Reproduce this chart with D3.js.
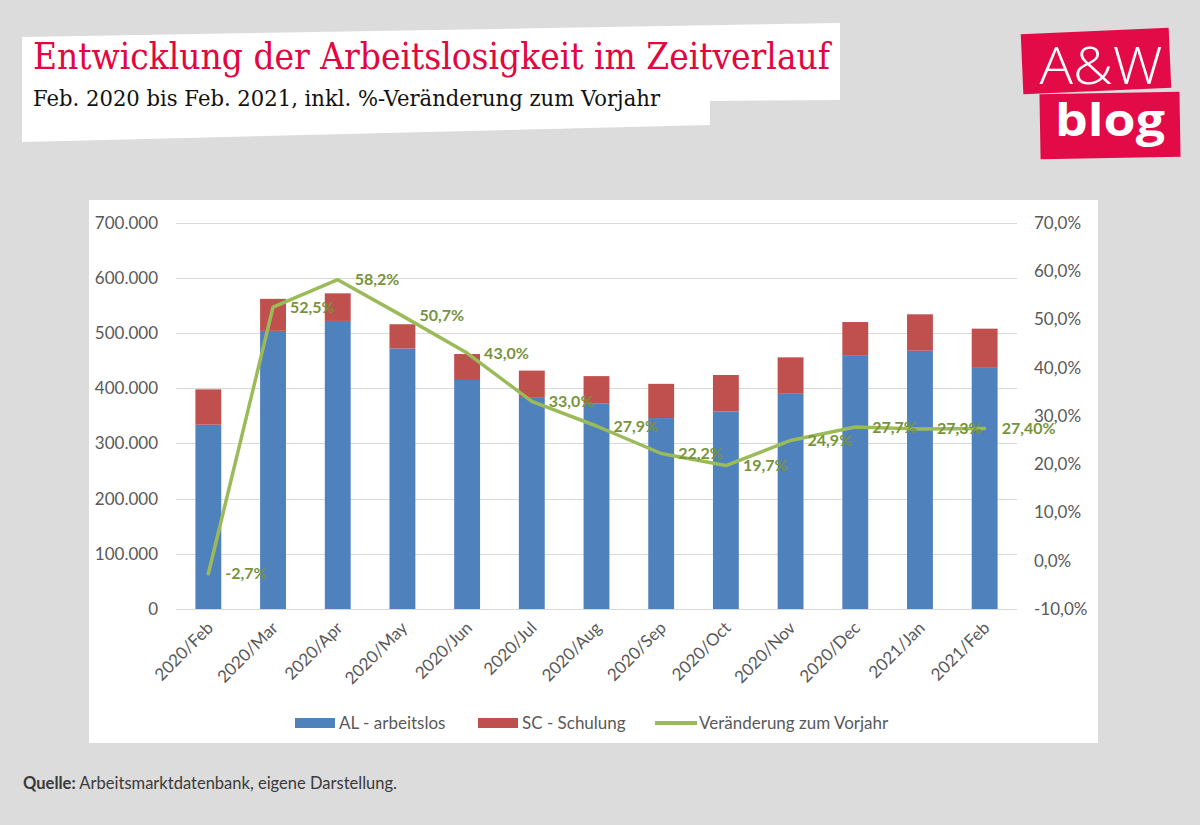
<!DOCTYPE html>
<html>
<head>
<meta charset="utf-8">
<script src="https://cdn.jsdelivr.net/npm/d3@7"></script>
<style>
  html, body { margin: 0; padding: 0; background: #dcdcdc; }
  svg { display: block; }
</style>
</head>
<body>
<svg id="chart" width="1200" height="825"></svg>
<script>
// ---- data ----
const categories = ["2020/Feb","2020/Mar","2020/Apr","2020/May","2020/Jun","2020/Jul","2020/Aug","2020/Sep","2020/Oct","2020/Nov","2020/Dec","2021/Jan","2021/Feb"];
const arbeitslos = [334000, 504000, 522000, 472000, 415000, 384000, 372000, 346000, 358000, 390000, 460000, 468000, 437000];
const schulung   = [64000, 58000, 50000, 44000, 47000, 48000, 50000, 62000, 66000, 66000, 60000, 66000, 71000];
const veraenderung = [-2.7, 52.5, 58.2, 50.7, 43.0, 33.0, 27.9, 22.2, 19.7, 24.9, 27.7, 27.3, 27.4];
const veraenderungLabels = ["-2,7%","52,5%","58,2%","50,7%","43,0%","33,0%","27,9%","22,2%","19,7%","24,9%","27,7%","27,3%","27,40%"];
const leftTicks = [0, 100000, 200000, 300000, 400000, 500000, 600000, 700000];
const rightTicks = [-10, 0, 10, 20, 30, 40, 50, 60, 70];
const seriesNames = ["AL - arbeitslos", "SC - Schulung", "Veränderung zum Vorjahr"];
const titleText = "Entwicklung der Arbeitslosigkeit im Zeitverlauf";
const subtitleText = "Feb. 2020 bis Feb. 2021, inkl. %-Veränderung zum Vorjahr";

// ---- styles ----
const C_BLUE = "#4f81bd", C_RED = "#c0504d", C_GREEN = "#9bbb59", C_GREEN_TXT = "#77933c";
const C_BRAND = "#e3063f";
const AXIS_FONT = "Lato, 'Open Sans', sans-serif";

const svg = d3.select("#chart");

// header white box
svg.append("path")
  .attr("d", "M22,37 L840,23 L840,100 L710,101 L710,125 L22,142 Z")
  .attr("fill", "#ffffff");

svg.append("text")
  .attr("x", 33).attr("y", 69)
  .attr("font-family", "'DejaVu Serif', serif")
  .attr("font-size", 38)
  .attr("fill", C_BRAND)
  .attr("textLength", 797).attr("lengthAdjust", "spacingAndGlyphs")
  .text(titleText);

svg.append("text")
  .attr("x", 33).attr("y", 106)
  .attr("font-family", "'DejaVu Serif', serif")
  .attr("font-size", 23)
  .attr("fill", "#111")
  .attr("textLength", 627).attr("lengthAdjust", "spacingAndGlyphs")
  .text(subtitleText);

// logo
const logo = svg.append("g");
logo.append("rect").attr("x", 1022).attr("y", 31).attr("width", 148).attr("height", 60)
  .attr("fill", "#e30a48").attr("transform", "rotate(-2.5 1096 61)");
logo.append("rect").attr("x", 1040).attr("y", 93).attr("width", 140).attr("height", 65)
  .attr("fill", "#e30a48").attr("transform", "rotate(-1 1110 125)");
logo.append("text").attr("x", 1101).attr("y", 84).attr("text-anchor", "middle")
  .attr("font-family", "'Open Sans', sans-serif").attr("font-weight", 300)
  .attr("font-size", 52).attr("fill", "#fff")
  .attr("textLength", 123).attr("lengthAdjust", "spacingAndGlyphs").text("A&W");
logo.append("text").attr("x", 1110).attr("y", 136).attr("text-anchor", "middle")
  .attr("font-family", "'Open Sans', sans-serif").attr("font-weight", 700)
  .attr("font-size", 44).attr("fill", "#fff")
  .attr("textLength", 110).attr("lengthAdjust", "spacingAndGlyphs").text("blog");

// chart panel
svg.append("rect").attr("x", 89).attr("y", 200).attr("width", 1009).attr("height", 543).attr("fill", "#fff");

const x0 = 176, x1 = 1017, yTop = 222.7, yBot = 609;
const x = d3.scaleBand().domain(categories).range([x0, x1]).paddingInner(0.6).paddingOuter(0.3);
const yL = d3.scaleLinear().domain([0, 700000]).range([yBot, yTop]);
const yR = d3.scaleLinear().domain([-10, 70]).range([yBot, yTop]);

// gridlines
svg.append("g").selectAll("line").data(leftTicks).join("line")
  .attr("x1", x0).attr("x2", x1)
  .attr("y1", d => Math.round(yL(d)) + 0.5).attr("y2", d => Math.round(yL(d)) + 0.5)
  .attr("stroke", "#d9d9d9").attr("stroke-width", 1);

// left axis
const fmtL = d => d === 0 ? "0" : d3.format(",")(d).replace(/,/g, ".");
const axL = svg.append("g").attr("transform", `translate(${x0},0)`)
  .call(d3.axisLeft(yL).tickValues(leftTicks).tickFormat(fmtL).tickSize(0).tickPadding(18));
axL.select(".domain").remove();
axL.selectAll("text").attr("font-family", AXIS_FONT).attr("font-size", 17).attr("fill", "#595959");

// right axis
const fmtR = d => d.toFixed(1).replace(".", ",") + "%";
const axR = svg.append("g").attr("transform", `translate(${x1},0)`)
  .call(d3.axisRight(yR).tickValues(rightTicks).tickFormat(fmtR).tickSize(0).tickPadding(17));
axR.select(".domain").remove();
axR.selectAll("text").attr("font-family", AXIS_FONT).attr("font-size", 17).attr("fill", "#595959");

// bars
const bars = svg.append("g");
bars.selectAll("rect.al").data(categories).join("rect").attr("class", "al")
  .attr("x", d => x(d)).attr("width", x.bandwidth())
  .attr("y", (d, i) => yL(arbeitslos[i])).attr("height", (d, i) => yL(0) - yL(arbeitslos[i]))
  .attr("fill", C_BLUE);
bars.selectAll("rect.sc").data(categories).join("rect").attr("class", "sc")
  .attr("x", d => x(d)).attr("width", x.bandwidth())
  .attr("y", (d, i) => yL(arbeitslos[i] + schulung[i]))
  .attr("height", (d, i) => yL(arbeitslos[i]) - yL(arbeitslos[i] + schulung[i]))
  .attr("fill", C_RED);

// x axis labels
const cx = d => x(d) + x.bandwidth() / 2;
svg.append("g").selectAll("text").data(categories).join("text")
  .attr("transform", d => `translate(${cx(d) + 6},${629}) rotate(-45)`)
  .attr("text-anchor", "end")
  .attr("font-family", AXIS_FONT).attr("font-size", 17).attr("fill", "#595959")
  .text(d => d);

// line
const line = d3.line().x((d, i) => cx(categories[i])).y(d => yR(d));
svg.append("path").datum(veraenderung)
  .attr("d", line).attr("fill", "none")
  .attr("stroke", C_GREEN).attr("stroke-width", 3.5)
  .attr("stroke-linejoin", "round").attr("stroke-linecap", "round");

// data labels
svg.append("g").selectAll("text").data(veraenderung).join("text")
  .attr("x", (d, i) => cx(categories[i]) + 17)
  .attr("y", d => yR(d))
  .attr("dy", "0.35em")
  .attr("font-family", AXIS_FONT).attr("font-weight", 700).attr("font-size", 16)
  .attr("fill", C_GREEN_TXT)
  .text((d, i) => veraenderungLabels[i]);

// legend
const leg = svg.append("g").attr("font-family", AXIS_FONT).attr("font-size", 17).attr("fill", "#595959");
const legItems = [
  {name: seriesNames[0], x: 295, type: "rect", color: C_BLUE},
  {name: seriesNames[1], x: 478, type: "rect", color: C_RED},
  {name: seriesNames[2], x: 655, type: "line", color: C_GREEN}
];
legItems.forEach(it => {
  if (it.type === "rect") {
    leg.append("rect").attr("x", it.x).attr("y", 718).attr("width", 40).attr("height", 10).attr("fill", it.color);
  } else {
    leg.append("line").attr("x1", it.x).attr("x2", it.x + 42).attr("y1", 723).attr("y2", 723)
      .attr("stroke", it.color).attr("stroke-width", 4);
  }
  leg.append("text").attr("x", it.x + 44).attr("y", 723).attr("dy", "0.35em").attr("fill", "#595959").text(it.name);
});

// source
const src = svg.append("text").attr("x", 23).attr("y", 789)
  .attr("font-family", "Lato, 'Open Sans', sans-serif").attr("font-size", 16.5).attr("fill", "#3a3a3a")
  .attr("textLength", 374).attr("lengthAdjust", "spacingAndGlyphs");
src.append("tspan").attr("font-weight", 700).text("Quelle:");
src.append("tspan").text(" Arbeitsmarktdatenbank, eigene Darstellung.");
</script>
</body>
</html>
